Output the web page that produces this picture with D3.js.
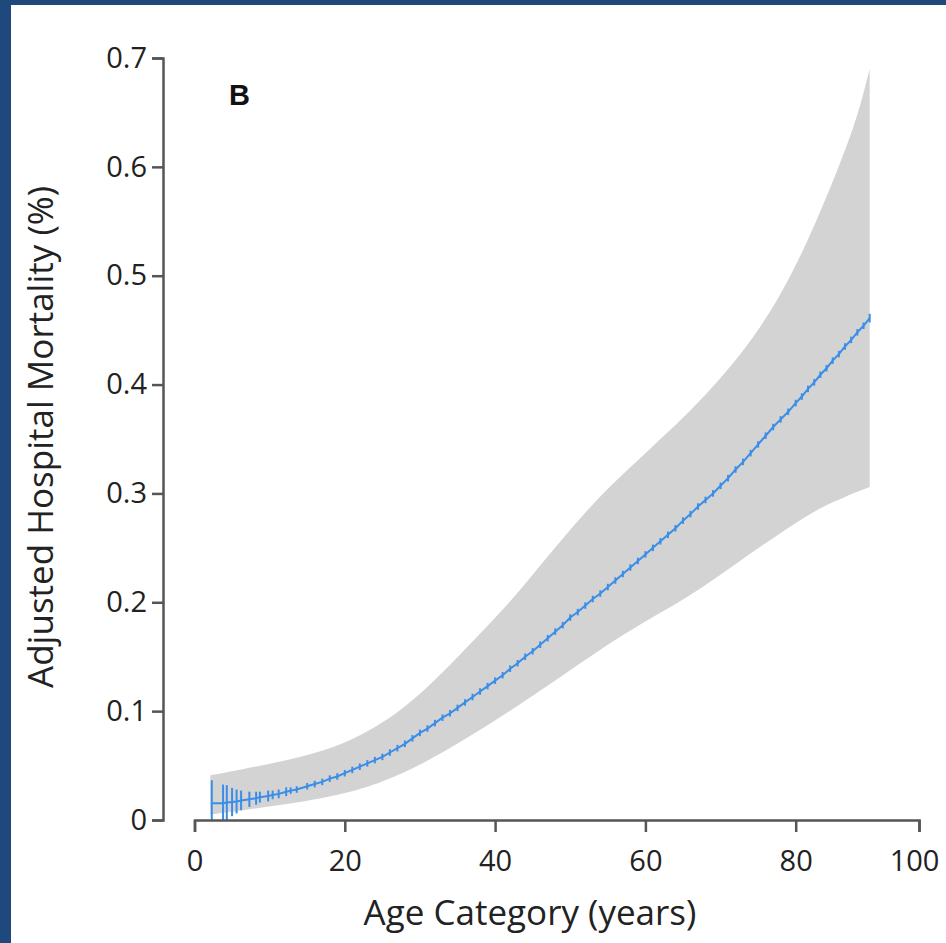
<!DOCTYPE html>
<html>
<head>
<meta charset="utf-8">
<script src="https://cdn.jsdelivr.net/npm/d3@7"></script>
<style>
  body { margin: 0; background: #1f497d; }
  svg { display: block; }
</style>
</head>
<body>
<div id="chart"></div>
<script>
// point estimates: age category, adjusted mortality (%), half-width of error bar
const ages = [2.3, 3.8, 4.3, 5.0, 5.6, 6.2, 7.3, 8.2, 8.7, 9.8, 10.4, 11.2, 12.2, 12.8, 13.6,
    15, 16, 17, 18, 19, 20, 21, 22, 23, 24, 25, 26, 27, 28, 29, 30, 31, 32, 33, 34, 35,
    36, 37, 38, 39, 40, 41, 42, 43, 44, 45, 46, 47, 48, 49, 50, 51, 52, 53, 54, 55,
    56, 57, 58, 59, 60, 61, 62, 63, 64, 65, 66, 67, 68, 69, 70, 71, 72, 73, 74, 75,
    76, 77, 78, 79, 80, 81, 82, 83, 84, 85, 86, 87, 88, 89, 90, 91, 92]
const mortality = [0.0155, 0.0155, 0.016, 0.0165, 0.017, 0.018, 0.019, 0.020, 0.021, 0.022, 0.023, 0.024, 0.026, 0.027, 0.028,
    0.031, 0.033, 0.035, 0.038, 0.040, 0.043, 0.046, 0.049, 0.052, 0.055, 0.058, 0.062, 0.066, 0.070, 0.075, 0.080, 0.084, 0.089, 0.094, 0.098, 0.103,
    0.108, 0.113, 0.118, 0.123, 0.128, 0.133, 0.139, 0.144, 0.150, 0.155, 0.161, 0.167, 0.173, 0.179, 0.186, 0.191, 0.197, 0.203, 0.208, 0.214,
    0.220, 0.226, 0.232, 0.238, 0.244, 0.250, 0.256, 0.262, 0.268, 0.275, 0.281, 0.288, 0.294, 0.300, 0.307, 0.314, 0.322, 0.329, 0.337, 0.345,
    0.353, 0.361, 0.368, 0.375, 0.383, 0.389, 0.396, 0.402, 0.409, 0.415, 0.422, 0.428, 0.435, 0.441, 0.448, 0.454, 0.461]
const errHalf = [0.021, 0.017, 0.016, 0.013, 0.011, 0.009, 0.007, 0.006, 0.005, 0.005, 0.004, 0.004, 0.004, 0.003, 0.003,
    0.003, 0.003, 0.003, 0.003, 0.003, 0.003, 0.003, 0.003, 0.003, 0.003, 0.003, 0.003, 0.003, 0.003, 0.003, 0.003, 0.003, 0.003, 0.003, 0.003, 0.003,
    0.003, 0.003, 0.003, 0.003, 0.003, 0.003, 0.003, 0.003, 0.003, 0.003, 0.003, 0.003, 0.003, 0.003, 0.003, 0.003, 0.003, 0.003, 0.003, 0.003,
    0.003, 0.003, 0.003, 0.003, 0.003, 0.003, 0.003, 0.003, 0.003, 0.003, 0.003, 0.003, 0.003, 0.003, 0.003, 0.003, 0.003, 0.003, 0.003, 0.003,
    0.003, 0.003, 0.003, 0.003, 0.003, 0.003, 0.003, 0.003, 0.003, 0.003, 0.003, 0.003, 0.003, 0.003, 0.003, 0.003, 0.004]

// confidence band edges
const upperAges = [2.1, 8, 14, 20, 24, 27.4, 32, 37, 42, 46, 50, 54, 58, 62, 66, 70, 75, 79.2, 83, 87, 90, 92]
const bandUpper = [0.041, 0.049, 0.057, 0.070, 0.085, 0.100, 0.128, 0.164, 0.200, 0.234, 0.267, 0.298, 0.324, 0.350, 0.376, 0.405, 0.448, 0.497, 0.545, 0.600, 0.645, 0.690]
const lowerAges = [2.1, 7.4, 14, 20.7, 25, 30, 36, 42, 48, 54, 60, 64.6, 70, 75, 80, 84, 88, 92]
const bandLower = [0.005, 0.010, 0.016, 0.025, 0.035, 0.050, 0.074, 0.100, 0.128, 0.157, 0.183, 0.200, 0.225, 0.250, 0.273, 0.287, 0.297, 0.306]

const xTicks = [0, 20, 40, 60, 80, 100]
const yTicks = [0, 0.1, 0.2, 0.3, 0.4, 0.5, 0.6, 0.7]

const width = 946, height = 943

const svg = d3.select('#chart').append('svg')
    .attr('width', width)
    .attr('height', height)

svg.append('rect')
    .attr('x', 11).attr('y', 5)
    .attr('width', width - 11).attr('height', height - 5)
    .attr('fill', '#fff')

// x axis in the original is stretched a bit past 80
const x = d3.scaleLinear()
    .domain([0, 80, 100])
    .range([194.5, 795.7, 919])

const y = d3.scaleLinear()
    .domain([0, 0.7])
    .range([820, 58])
    .clamp(true)

// band polygon: upper edge left to right, lower edge back right to left
const edge = d3.line().x(d => x(d[0])).y(d => y(d[1])).curve(d3.curveBasis)
const upperPath = edge(upperAges.map((a, i) => [a, bandUpper[i]]))
const lowerPath = edge(lowerAges.map((a, i) => [a, bandLower[i]]).reverse())

svg.append('path')
    .attr('fill', '#d3d3d3')
    .attr('d', upperPath + 'L' + lowerPath.slice(1) + 'Z')

const pts = ages.map((a, i) => ({ age: a, v: mortality[i], e: errHalf[i] }))

svg.append('path')
    .datum(pts)
    .attr('fill', 'none')
    .attr('stroke', '#3a8ee8')
    .attr('stroke-width', 2)
    .attr('d', d3.line().x(d => x(d.age)).y(d => y(d.v)))

svg.append('g')
    .attr('stroke', '#3a8ee8')
    .attr('stroke-width', 2)
    .selectAll('line')
    .data(pts)
    .join('line')
    .attr('x1', d => x(d.age))
    .attr('x2', d => x(d.age))
    .attr('y1', d => y(d.v - d.e))
    .attr('y2', d => y(d.v + d.e))

function styleAxis(g) {
    g.select('.domain').attr('stroke', '#555').attr('stroke-width', 2.5)
    g.selectAll('.tick line').attr('stroke', '#555').attr('stroke-width', 2.5)
    g.selectAll('.tick text')
        .attr('font-family', 'Open Sans, sans-serif')
        .attr('font-size', '29px')
        .attr('fill', '#222')
}

function xAxis(g) {
    g.attr('transform', `translate(0,${y(0)})`)
        .call(d3.axisBottom(x).tickValues(xTicks).tickSize(12).tickSizeOuter(12).tickPadding(18))
    styleAxis(g)
    g.selectAll('.tick text').filter(d => d === 100).attr('dx', -5)
}

function yAxis(g) {
    g.attr('transform', `translate(163,0)`)
        .call(d3.axisLeft(y).tickValues(yTicks).tickFormat(d => d === 0 ? '0' : d3.format('.1f')(d))
            .tickSize(11).tickSizeOuter(11).tickPadding(5))
    styleAxis(g)
}

svg.append('g').call(xAxis)
svg.append('g').call(yAxis)

svg.append('text')
    .attr('x', 530).attr('y', 925)
    .attr('text-anchor', 'middle')
    .attr('font-family', 'Open Sans, sans-serif')
    .attr('font-size', '35px')
    .attr('fill', '#222')
    .text('Age Category (years)')

svg.append('text')
    .attr('transform', 'translate(53,437) rotate(-90)')
    .attr('text-anchor', 'middle')
    .attr('font-family', 'Open Sans, sans-serif')
    .attr('font-size', '35px')
    .attr('fill', '#222')
    .text('Adjusted Hospital Mortality (%)')

svg.append('text')
    .attr('x', 229).attr('y', 105)
    .attr('font-family', 'Liberation Sans, Arial, sans-serif')
    .attr('font-weight', 'bold')
    .attr('font-size', '29px')
    .attr('fill', '#111')
    .text('B')
</script>
</body>
</html>
